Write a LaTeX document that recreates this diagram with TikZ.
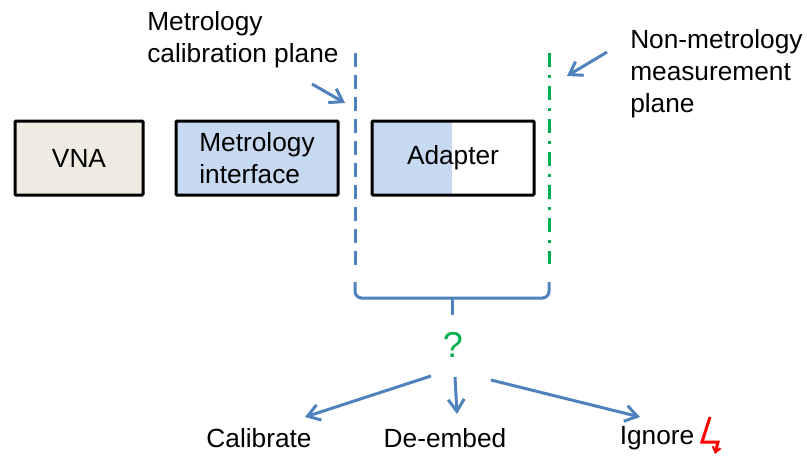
\documentclass[tikz,border=0pt]{standalone}
\usepackage{fontspec}
\setmainfont{Liberation Sans}
\usetikzlibrary{arrows.meta}
\definecolor{LineBlue}{HTML}{4F81BD}
\definecolor{FillBlue}{HTML}{C6D9F1}
\definecolor{FillTan}{HTML}{EEECE1}
\definecolor{PlaneGreen}{HTML}{00B050}
\begin{document}
\begin{tikzpicture}[x=0.75pt,y=-0.75pt]
	\tikzstyle{Box} = [rectangle, draw, line width=2.25pt, rounded corners=0.8pt, minimum width=121.5pt, minimum height=55.5pt, inner sep=0pt, align=left]
	\tikzstyle{Label} = [inner sep=0pt, align=left, font=\fontsize{19.7}{24}\selectfont]
	\tikzstyle{Pointer} = [-{Straight Barb[length=9pt, width=12pt, line width=2.25pt]}, LineBlue, line width=2.25pt]
	\useasboundingbox (0,0) rectangle (807,455);
	\fill [FillBlue] (372,121) rectangle (452,195);
	\node (VNA) at (79,158) [Box, minimum width=96pt, fill=FillTan, font=\fontsize{19.7}{24}\selectfont] {VNA};
	\node (Metrology) at (257,158) [Box, fill=FillBlue, font=\fontsize{19.7}{24}\selectfont] {Metrology\\interface};
	\node (Adapter) at (453,158) [Box, font=\fontsize{19.7}{24}\selectfont] {Adapter};
	\node (CalLabel) at (147,40) [Label, anchor=west] {Metrology\\calibration plane};
	\node (MeasLabel) at (630,74) [Label, anchor=west] {Non-metrology\\measurement\\plane};
	\node (Query) at (453,345) [PlaneGreen, inner sep=0pt, font=\fontsize{27}{30}\selectfont] {?};
	\node (Calibrate) at (259,438) [Label] {Calibrate};
	\node (Deembed) at (445,438) [Label] {De-embed};
	\node (Ignore) at (657,438) [Label] {Ignore};
	\coordinate (CalTop) at (355,53);
	\coordinate (CalEnd) at (355,265);
	\coordinate (MeasTop) at (549,53);
	\coordinate (MeasEnd) at (549,264);
	\coordinate (BraceLeft) at (355,282);
	\coordinate (BraceRight) at (549,282);
	\coordinate (BraceMid) at (452,298);
	\coordinate (BraceTip) at (452,315);
	\coordinate (CalFrom) at (312,84);
	\coordinate (CalTo) at (345,103);
	\coordinate (MeasFrom) at (607,52);
	\coordinate (MeasTo) at (567,76);
	\coordinate (FromLeft) at (431,376);
	\coordinate (FromMid) at (455,377);
	\coordinate (FromRight) at (491,380);
	\coordinate (ToLeft) at (305,417);
	\coordinate (ToMid) at (457,414);
	\coordinate (ToRight) at (640,417);
	\coordinate (Bolt1) at (710,417);
	\coordinate (Bolt2) at (702,442);
	\coordinate (Bolt3) at (718,442);
	\coordinate (Bolt4) at (715,454);
	\draw [LineBlue, line width=2.25pt, dash pattern=on 10.5pt off 6pt] (CalTop) to (CalEnd);
	\draw [PlaneGreen, line width=2.25pt, dash pattern=on 10.5pt off 6pt on 2.25pt off 6pt] (MeasTop) to (MeasEnd);
	\draw [LineBlue, line width=2.25pt, rounded corners=5pt] (BraceLeft) |- (BraceMid) -| (BraceRight);
	\draw [LineBlue, line width=2.25pt] (BraceMid) to (BraceTip);
	\draw [Pointer] (CalFrom) to (CalTo);
	\draw [Pointer] (MeasFrom) to (MeasTo);
	\draw [Pointer] (FromLeft) to (ToLeft);
	\draw [Pointer] (FromMid) to (ToMid);
	\draw [Pointer] (FromRight) to (ToRight);
	\draw [-{Straight Barb[length=4pt, width=6pt, line width=1.5pt]}, red, line width=2.25pt] (Bolt1) -- (Bolt2) -- (Bolt3) -- (Bolt4);
\end{tikzpicture}
\end{document}
